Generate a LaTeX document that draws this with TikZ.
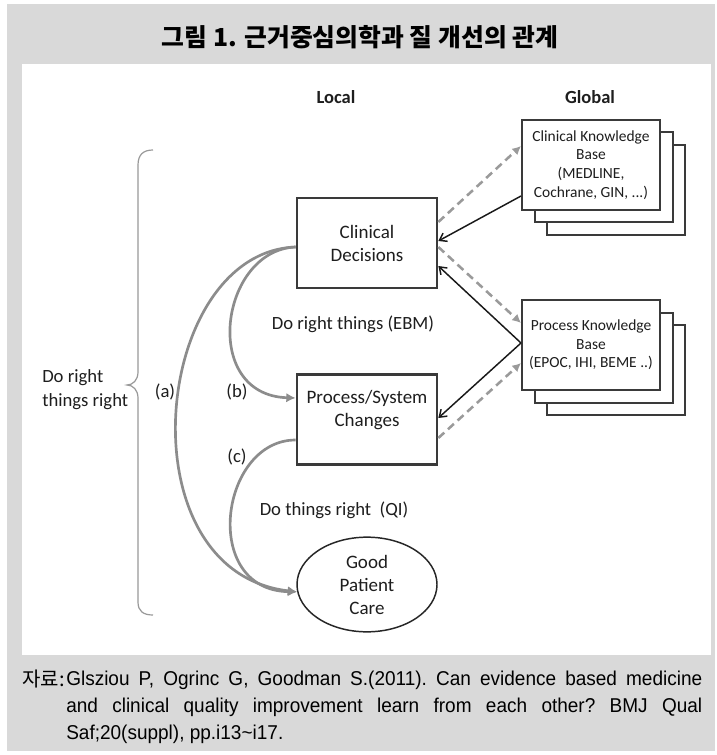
\documentclass[tikz,border=0pt]{standalone}
\usepackage{fontspec}
\setmainfont{Carlito}
\newfontfamily\krfont{Noto Sans CJK KR}
\newfontfamily\footfont[FakeStretch=0.95]{Liberation Sans}
\usetikzlibrary{arrows.meta,calc,shapes.geometric}
\definecolor{bggray}{HTML}{D9D9D9}
\definecolor{arrgray}{HTML}{8C8C8C}
\definecolor{dashgray}{HTML}{9A9A9A}
\definecolor{boxline}{HTML}{3A3A3A}
\definecolor{txt}{HTML}{1E1E1E}
\begin{document}
\begin{tikzpicture}[x=0.75pt,y=-0.75pt,
  mainbox/.style={draw=boxline,line width=2pt,minimum width=105pt,minimum height=67.5pt,inner sep=0pt,fill=white},
  mainfont/.style={font=\fontsize{14.25}{17.25}\selectfont,text=txt,align=center},
  kbbox/.style={draw=boxline,line width=1.5pt,minimum width=103.5pt,minimum height=67.5pt,inner sep=0pt,fill=white,font=\fontsize{11.6}{14}\selectfont,text=txt,align=center},
  lbl/.style={font=\fontsize{14}{17}\selectfont,text=txt,align=left,inner sep=0pt},
  grayarrow/.style={draw=arrgray,line width=2pt,-{Latex[length=7pt,width=7pt]}},
  blackarrow/.style={draw=black!90,line width=1.1pt,-{Straight Barb[length=5pt,width=7pt]}},
  dasharrow/.style={draw=dashgray,line width=1.9pt,dash pattern=on 6pt off 3.75pt,-{Latex[length=6.5pt,width=6.5pt]}},
  bracestyle/.style={draw=gray!80,line width=0.9pt}
]
\useasboundingbox (0,0) rectangle (716,755);
\fill[bggray] (7,4) rectangle (715,751);
\fill[white] (22,64) rectangle (711,655);

% title
\node[font=\krfont\bfseries\fontsize{18.6}{22}\selectfont] (title) at (360,37) {그림 1. 근거중심의학과 질 개선의 관계};

% column headers
\node[font=\bfseries\fontsize{13.9}{17}\selectfont,text=txt] (local) at (336,97) {Local};
\node[font=\bfseries\fontsize{13.9}{17}\selectfont,text=txt] (global) at (590,97) {Global};

% knowledge bases (stacks)
\node[kbbox] (ckb2) at (616,190) {};
\node[kbbox] (ckb1) at (603.5,177.5) {};
\node[kbbox] (ckb) at (591,165) {Clinical Knowledge\\Base\\(MEDLINE,\\Cochrane, GIN, ...)};
\node[kbbox] (pkb2) at (616,370) {};
\node[kbbox] (pkb1) at (603.5,357.5) {};
\node[kbbox] (pkb) at (591,345) {Process Knowledge\\Base\\(EPOC, IHI, BEME ..)};

% local boxes
\node[mainbox,mainfont] (cd) at (367,243) {Clinical\\Decisions};
\node[mainbox] (ps) at (367,419.5) {};
\node[mainfont,inner sep=0pt] (pstext) at (367,410) {Process/System\\Changes};
\node[ellipse,draw=black!85,line width=1.1pt,minimum width=105pt,minimum height=71pt,inner sep=0pt,mainfont] (gpc) at (367,584.5) {Good\\Patient\\Care};

% labels
\node[lbl] (ebm) at (353,324) {Do right things (EBM)};
\node[lbl] (qi) at (334,510) {Do things right~~(QI)};
\node[lbl] (la) at (165,392) {(a)};
\node[lbl] (lb) at (237,392) {(b)};
\node[lbl] (lc) at (237,457) {(c)};
\node[lbl,anchor=west,font=\fontsize{14}{18}\selectfont] (drtr) at (42,390) {Do right\\things right};

% brace
\draw[bracestyle] (153,150) .. controls (143,150) and (138,155) .. (138,165) -- (138,372)
  .. controls (138,380) and (133,385) .. (127,385)
  .. controls (133,385) and (138,390) .. (138,398) -- (138,602)
  .. controls (138,611) and (143,615) .. (153,615);

% gray curved arrows
\draw[grayarrow] ($(cd.west)+(0,4)$) .. controls (152,252) and (122,572) .. (gpc.186);
\draw[grayarrow] ($(cd.west)+(0,4)$) .. controls (220,250) and (200,395) .. ($(ps.west)+(0,-21.5)$);
\draw[grayarrow] ($(ps.west)+(0,20.5)$) .. controls (220,440) and (200,590) .. (gpc.186);

% dashed arrows (local -> global)
\draw[dasharrow] ($(cd.east)+(0,-21)$) -- ($(ckb.west)+(0,-19)$);
\draw[dasharrow] ($(cd.east)+(0,4)$) -- ($(pkb.west)+(0,-22)$);
\draw[dasharrow] ($(ps.east)+(0,18.5)$) -- ($(pkb.west)+(0,18)$);

% black arrows (global -> local)
\draw[blackarrow] ($(ckb.west)+(0,31)$) -- ($(cd.east)+(0,-2)$);
\draw[blackarrow] ($(pkb.west)+(0,-2)$) -- ($(cd.east)+(0,23)$);
\draw[blackarrow] ($(pkb.west)+(0,-2)$) -- ($(ps.east)+(0,-1.5)$);

% footer
\node[anchor=base west,inner sep=0pt,font=\krfont\fontsize{15}{20}\selectfont] (src) at (22,686) {자료:};
\node[anchor=north west,inner sep=0pt,text width=477pt,align=justify,font=\footfont\fontsize{15}{20.25}\selectfont\frenchspacing] (cite) at (66,671)
  {Glsziou P, Ogrinc G, Goodman S.(2011). Can evidence based medicine\linebreak
   and clinical quality improvement learn from each other? BMJ Qual\linebreak
   Saf;20(suppl), pp.i13\textasciitilde i17.};
\end{tikzpicture}
\end{document}
